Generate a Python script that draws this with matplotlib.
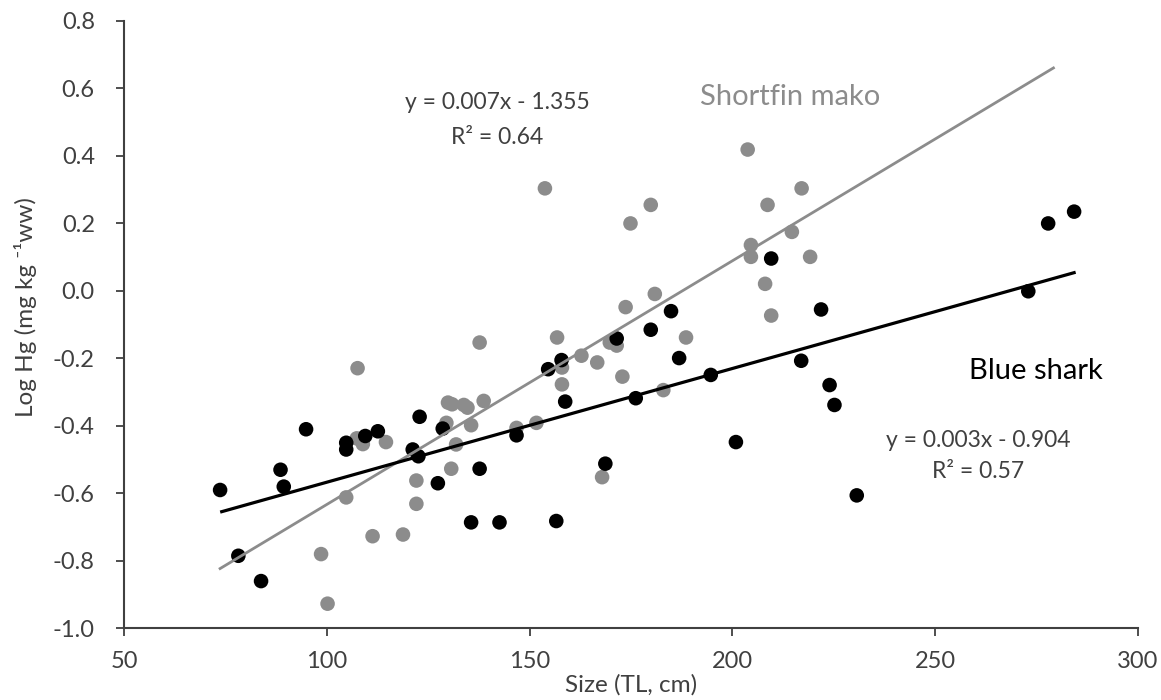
import numpy as np
import matplotlib
matplotlib.use("Agg")
import matplotlib.pyplot as plt

plt.rcParams['font.family'] = ['Lato', 'DejaVu Sans']

# Blue shark (black dots)
blue_x = [73.7, 78.2, 83.8, 88.6, 89.4, 94.9, 104.8, 104.8, 109.5, 112.6,
          121.2, 122.6, 122.9, 127.4, 128.6, 135.6, 137.7, 142.6, 146.8, 154.6,
          156.6, 157.9, 158.8, 168.7, 171.5, 176.2, 179.9, 184.9, 186.9, 194.7,
          200.9, 209.6, 217.0, 221.9, 224.0, 225.2, 230.7, 273.0, 277.9, 284.3]
blue_y = [-0.59, -0.785, -0.86, -0.53, -0.58, -0.41, -0.45, -0.47, -0.43, -0.416,
          -0.47, -0.49, -0.373, -0.57, -0.408, -0.686, -0.527, -0.686, -0.428, -0.232,
          -0.682, -0.205, -0.328, -0.512, -0.141, -0.318, -0.115, -0.06, -0.199, -0.249,
          -0.448, 0.096, -0.207, -0.055, -0.279, -0.338, -0.606, -0.001, 0.2, 0.235]

# Shortfin mako (gray dots)
mako_x = [98.6, 100.2, 104.8, 107.4, 107.6, 108.9, 111.3, 114.6, 118.8, 122.1,
          122.1, 129.5, 129.9, 130.7, 130.9, 131.9, 133.8, 134.7, 135.6, 137.7,
          138.7, 146.8, 151.7, 153.8, 156.8, 158.0, 158.0, 162.8, 166.7, 167.9,
          169.8, 171.5, 172.9, 173.7, 174.9, 179.9, 180.9, 183.0, 188.6, 203.8,
          204.6, 204.6, 208.1, 208.7, 209.6, 214.7, 217.1, 219.2]
mako_y = [-0.78, -0.927, -0.612, -0.437, -0.229, -0.454, -0.727, -0.448, -0.722, -0.562,
          -0.631, -0.391, -0.331, -0.527, -0.336, -0.455, -0.338, -0.346, -0.398, -0.153,
          -0.326, -0.406, -0.391, 0.304, -0.138, -0.227, -0.277, -0.192, -0.212, -0.552,
          -0.153, -0.162, -0.254, -0.048, 0.2, 0.255, -0.009, -0.294, -0.138, 0.419,
          0.136, 0.101, 0.021, 0.255, -0.073, 0.175, 0.304, 0.101]

# trendlines as drawn: slope, intercept, x range
blue_fit = [0.00337, -0.904]
blue_span = [74.1, 284.3]
mako_fit = [0.00722, -1.355]
mako_span = [73.7, 279.2]

x_ticks = [50, 100, 150, 200, 250, 300]
y_ticks = [-1.0, -0.8, -0.6, -0.4, -0.2, 0.0, 0.2, 0.4, 0.6, 0.8]

gray = '#8c8c8c'
txt = '#404040'

fig = plt.figure(figsize=(11.61, 7), dpi=100)
ax = fig.add_axes([0.1068, 0.1024, 0.8732, 0.8676])

ax.scatter(mako_x, mako_y, s=110, color=gray, edgecolors='none', zorder=2)
ax.scatter(blue_x, blue_y, s=110, color='black', edgecolors='none', zorder=3)

xs = np.array(mako_span)
ax.plot(xs, mako_fit[0] * xs + mako_fit[1], color=gray, lw=2.0, zorder=4)
xs = np.array(blue_span)
ax.plot(xs, blue_fit[0] * xs + blue_fit[1], color='black', lw=2.3, zorder=4)

ax.set_xlim(50, 300)
ax.set_ylim(-1.0, 0.8)
ax.set_xticks(x_ticks)
ax.set_yticks(y_ticks)
ax.set_yticklabels([f'{v:.1f}' for v in y_ticks])

for s in ['top', 'right']:
    ax.spines[s].set_visible(False)
for s in ['left', 'bottom']:
    ax.spines[s].set_color(txt)
    ax.spines[s].set_linewidth(1.5)
ax.tick_params(axis='both', colors=txt, labelsize=17, length=6, width=1.3)
ax.tick_params(axis='x', pad=10)
ax.tick_params(axis='y', pad=15)

ax.set_xlabel('Size (TL, cm)', fontsize=17.5, color=txt)
ax.set_ylabel('Log Hg (mg kg \u207b\u00b9ww)', fontsize=17.5, color=txt)
ax.xaxis.set_label_coords(0.5, -0.076)
ax.yaxis.set_label_coords(-0.086, 0.529)

ax.text(214.2, 0.575, 'Shortfin mako', fontsize=21, color=gray, ha='center', va='center')
ax.text(274.9, -0.238, 'Blue shark', fontsize=21, color='black', ha='center', va='center')
ax.text(142, 0.557, 'y = 0.007x - 1.355', fontsize=16.5, color=txt, ha='center', va='center')
ax.text(142, 0.456, 'R\u00b2 = 0.64', fontsize=16.5, color=txt, ha='center', va='center')
ax.text(260.6, -0.443, 'y = 0.003x - 0.904', fontsize=16.5, color=txt, ha='center', va='center')
ax.text(260.6, -0.535, 'R\u00b2 = 0.57', fontsize=16.5, color=txt, ha='center', va='center')

fig.savefig('out.png', dpi=100)
